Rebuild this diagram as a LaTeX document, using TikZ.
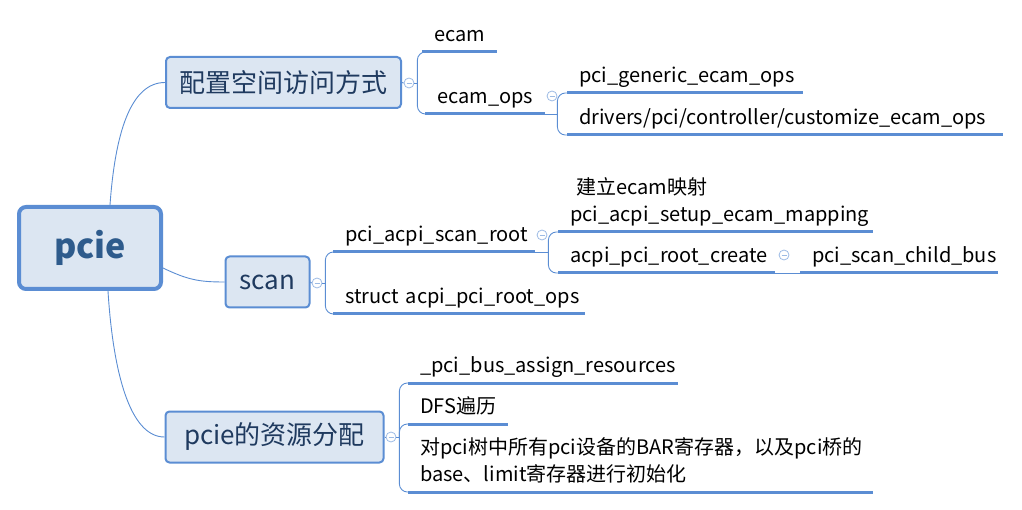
\documentclass[tikz,border=0pt]{standalone}
\usepackage{fontspec}
\setmainfont{Noto Sans CJK SC}
\usetikzlibrary{positioning,calc}
\definecolor{Edge}{HTML}{5B8DD3}
\definecolor{Pale}{HTML}{DCE6F2}
\definecolor{Navy}{HTML}{1F3A5F}
\definecolor{Steel}{HTML}{2E5B8C}
\newcommand{\fold}[3]{
  \node[fold] (#1) at (#2,#3) {};
  \draw[Edge!60, line width=0.8pt] ($(#1.center)+(-2.5,0)$) -- ($(#1.center)+(2.5,0)$);
}

\begin{document}
\begin{tikzpicture}[x=1pt, y=-1pt,
    box/.style={draw=Edge, fill=Pale, line width=2pt, rounded corners=4pt, text=Navy,
      font=\fontsize{26}{30}\selectfont, inner sep=0pt},
    rootbox/.style={box, line width=4pt, rounded corners=7pt, text=Steel,
      font=\fontsize{34}{40}\selectfont\bfseries},
    leaf/.style={anchor=south west, inner xsep=12pt, inner ysep=5pt, text width=#1,
      align=left, text depth=5pt, font=\fontsize{20}{27}\selectfont},
    uline/.style={draw=Edge, line width=3pt},
    link/.style={draw=Edge, line width=0.9pt},
    fold/.style={circle, draw=Edge!60, line width=0.8pt, minimum size=10pt, inner sep=0pt, fill=white}]
        \useasboundingbox (0,0) rectangle (1022,510);
        % main topics
        \node[rootbox, minimum width=142pt, minimum height=82pt] (pcie) at (90,248) {pcie};
        \node[box, minimum width=235pt, minimum height=51pt] (cfg) at (283.5,82.5) {配置空间访问方式};
        \node[box, minimum width=84pt, minimum height=51pt] (scan) at (267.5,282) {scan};
        \node[box, minimum width=218pt, minimum height=51pt] (res) at (274.5,437) {pcie的资源分配};
        \draw[link] ($(pcie.north)+(20,0)$) .. controls +(5,-70) and +(-35,0) .. (cfg.west);
        \draw[link] ($(pcie.east)+(0,20)$) .. controls +(25,12) and +(-25,0) .. (scan.west);
        \draw[link] ($(pcie.south)+(18,0)$) .. controls +(5,80) and +(-35,0) .. (res.west);
        \fold{fcfg}{409}{83}
        \fold{fscan}{317}{283}
        \fold{fres}{391}{437}
        \draw[link] (cfg.east) -- (fcfg.west);
        \draw[link] (scan.east) -- (fscan.west);
        \draw[link] (res.east) -- (fres.west);

        % leaves
        \node[leaf=51pt] (ecam) at (422,52) {ecam};
        \node[leaf=96pt] (ecamops) at (425,114) {ecam\_ops};
        \node[leaf=212pt] (generic) at (567,93) {pci\_generic\_ecam\_ops};
        \node[leaf=412pt] (drivers) at (567,135) {drivers/pci/controller/customize\_ecam\_ops};
        \node[leaf=178pt] (scanroot) at (333,252) {pci\_acpi\_scan\_root};
        \node[leaf=228pt] (rootops) at (333,314) {\mbox{struct acpi\_pci\_root\_ops}};
        \node[leaf=291pt] (setup) at (558,232) {pci\_acpi\_setup\_ecam\_mapping};
        \node[leaf=193pt] (create) at (558,273) {acpi\_pci\_root\_create};
        \node[leaf=174pt] (childbus) at (800,273) {pci\_scan\_child\_bus};
        \node[leaf=246pt] (assign) at (408,383) {\_pci\_bus\_assign\_resources};
        \node[leaf=76pt] (dfs) at (408,424) {DFS遍历};
        \node[leaf=441pt, text depth=32pt] (init) at (408,492) {对pci树中所有pci设备的BAR寄存器，以及pci桥的\\base、limit寄存器进行初始化};
        \node[anchor=base west, inner sep=0pt, font=\fontsize{20}{24}\selectfont] (note) at ($(setup.base west)+(18,-27)$) {建立ecam映射};
        \foreach \n in {ecam,ecamops,generic,drivers,scanroot,rootops,setup,create,childbus,assign,dfs,init}
          \draw[uline] (\n.south west) -- (\n.south east);

        % brackets
        \draw[link] (fcfg.east) -- ++(3,0) coordinate (jcfg);
        \foreach \c in {ecam,ecamops}
          \draw[link, rounded corners=8pt] (jcfg) |- (\c.south west);
        \draw[link] (fscan.east) -- ++(3,0) coordinate (jscan);
        \foreach \c in {scanroot,rootops}
          \draw[link, rounded corners=8pt] (jscan) |- (\c.south west);
        \draw[link] (fres.east) -- ++(3,0) coordinate (jres);
        \foreach \c in {assign,dfs,init}
          \draw[link, rounded corners=8pt] (jres) |- (\c.south west);
        \draw[link] (ecamops.south east) -- ++(12,0) coordinate (jops);
        \foreach \c in {generic,drivers}
          \draw[link, rounded corners=8pt] (jops) |- (\c.south west);
        \draw[link] (scanroot.south east) -- ++(13,0) coordinate (jroot);
        \foreach \c in {setup,create}
          \draw[link, rounded corners=8pt] (jroot) |- (\c.south west);
        \draw[link] (create.south east) -- (childbus.south west);
        \fold{fops}{552}{96}
        \fold{froot}{542}{235}
        \fold{fcreate}{784}{255}
      \end{tikzpicture}
\end{document}
